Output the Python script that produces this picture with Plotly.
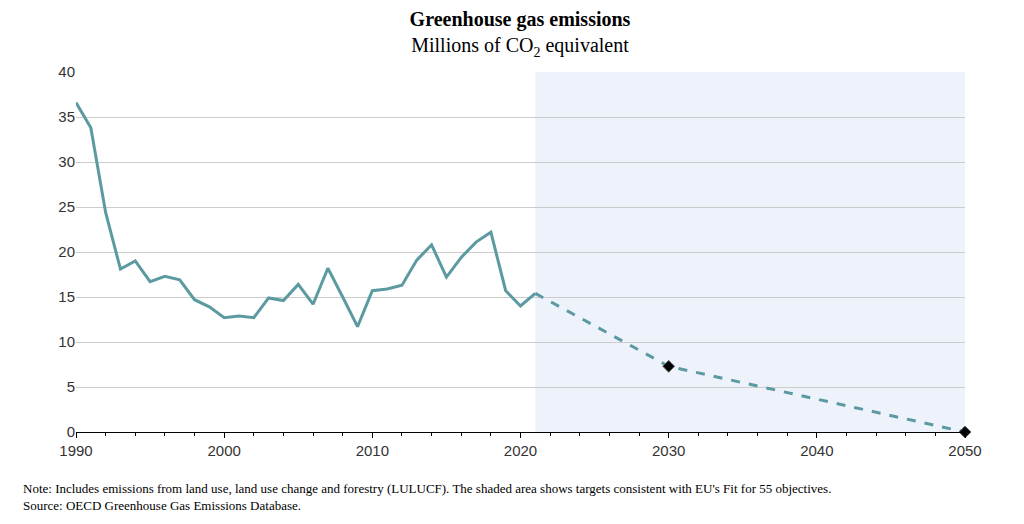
import plotly.graph_objects as go

years = list(range(1990, 2022))
emissions = [36.6, 33.8, 24.4, 18.1, 19.0, 16.7, 17.3, 16.9, 14.7, 13.9,
             12.7, 12.9, 12.7, 14.9, 14.6, 16.4, 14.2, 18.2, 15.0, 11.7,
             15.7, 15.9, 16.3, 19.1, 20.8, 17.2, 19.4, 21.1, 22.2, 15.7,
             14.0, 15.4]
target_years = [2021, 2030, 2050]
target_values = [15.4, 7.3, 0]
line_color = "#5b9aa0"

fig = go.Figure()

# shaded target period
fig.add_vrect(x0=2021, x1=2050, fillcolor="#eef3fb", line_width=0, layer="below")

fig.add_trace(go.Scatter(x=years, y=emissions, mode="lines",
                         line=dict(color=line_color, width=3)))
fig.add_trace(go.Scatter(x=target_years, y=target_values, mode="lines",
                         line=dict(color=line_color, width=3, dash="dash")))
fig.add_trace(go.Scatter(x=target_years[1:], y=target_values[1:], mode="markers",
                         marker=dict(symbol="diamond", size=9, color="black",
                                     line=dict(color="#555", width=1)),
                         cliponaxis=False))

fig.update_layout(
    width=1024, height=524, showlegend=False,
    plot_bgcolor="white", paper_bgcolor="white",
    margin=dict(l=68, r=67, t=64, b=100),
    title=dict(text="<b>Greenhouse gas emissions</b><br>Millions of CO<sub>2</sub> equivalent",
               x=0.5, y=0.965, xanchor="center", yanchor="top",
               font=dict(family="Liberation Serif, DejaVu Serif", size=20, color="black")),
    font=dict(family="Liberation Sans Narrow, Liberation Sans, Arial", size=15, color="#333"),
    xaxis=dict(range=[1990, 2050], tickvals=[1990, 2000, 2010, 2020, 2030, 2040, 2050],
               showgrid=False, showline=True, linecolor="black", ticks="outside",
               ticklen=5, tickcolor="black",
               minor=dict(dtick=2, ticks="outside", ticklen=3, tickcolor="black")),
    yaxis=dict(range=[0, 40], dtick=5, showgrid=True, gridcolor="#cccccc",
               zeroline=False, showline=False),
)

fig.add_annotation(
    text="Note: Includes emissions from land use, land use change and forestry (LULUCF). "
         "The shaded area shows targets consistent with EU's Fit for 55 objectives.<br>"
         "Source: OECD Greenhouse Gas Emissions Database.",
    xref="paper", yref="paper", x=-0.062, y=-0.13, xanchor="left", yanchor="top",
    showarrow=False, align="left",
    font=dict(family="Liberation Serif, DejaVu Serif", size=13, color="black"))

fig.write_html("out.html")
